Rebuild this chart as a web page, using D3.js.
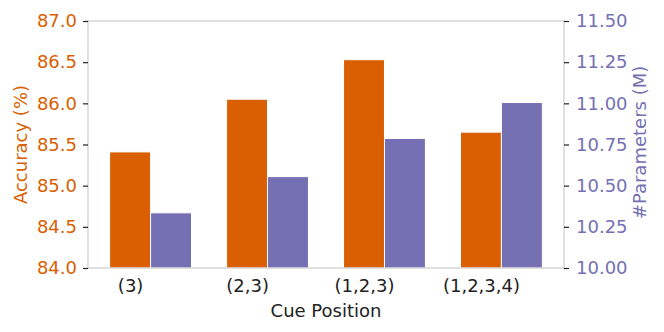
<!DOCTYPE html>
<html>
<head>
<meta charset="utf-8">
<script src="https://cdn.jsdelivr.net/npm/d3@7"></script>
<style>
  body { margin: 0; background: #fff; }
  text { font-family: "DejaVu Sans", sans-serif; }
</style>
</head>
<body>
<div id="chart"></div>
<script>
// data
const categories = ["(3)", "(2,3)", "(1,2,3)", "(1,2,3,4)"]
const accuracy = [85.41, 86.05, 86.53, 85.65]
const params = [10.335, 10.555, 10.787, 11.005]
const accTicks = [84.0, 84.5, 85.0, 85.5, 86.0, 86.5, 87.0]
const paramTicks = [10.00, 10.25, 10.50, 10.75, 11.00, 11.25, 11.50]

const orange = "#d95f02", purple = "#7570b3"

const margin = ({top: 21, right: 100, bottom: 64, left: 88})
const W = 664, H = 332
const width = W - margin.left - margin.right,
    height = H - margin.top - margin.bottom

const svg = d3.select("#chart").append("svg")
    .attr("width", W)
    .attr("height", H)
    .append("g")
    .attr("transform", "translate(" + margin.left + "," + margin.top + ")")

const barW = 0.35
const xScale = d3.scaleLinear()
    .domain([-barW / 2 - 0.185, categories.length - 1 + barW * 1.5 + 0.185])
    .range([0, width])
const yLeft = d3.scaleLinear().domain([84, 87]).range([height, 0])
const yRight = d3.scaleLinear().domain([10, 11.5]).range([height, 0])

// bars
svg.selectAll(".acc")
    .data(accuracy)
    .enter().append("rect")
    .attr("class", "acc")
    .attr("x", (d, i) => xScale(i - barW / 2))
    .attr("width", xScale(barW) - xScale(0))
    .attr("y", d => yLeft(d))
    .attr("height", d => height - yLeft(d))
    .attr("fill", orange)
    .attr("stroke", "#fff")
    .attr("stroke-width", 1)

svg.selectAll(".par")
    .data(params)
    .enter().append("rect")
    .attr("class", "par")
    .attr("x", (d, i) => xScale(i + barW / 2))
    .attr("width", xScale(barW) - xScale(0))
    .attr("y", d => yRight(d))
    .attr("height", d => height - yRight(d))
    .attr("fill", purple)
    .attr("stroke", "#fff")
    .attr("stroke-width", 1)

// frame
svg.append("rect")
    .attr("width", width).attr("height", height)
    .attr("fill", "none")
    .attr("stroke", "#cccccc")
    .attr("stroke-width", 1.2)

// axes
const yAxisL = d3.axisLeft(yLeft).tickValues(accTicks).tickFormat(d3.format(".1f")).tickSize(5).tickPadding(6)
const yAxisR = d3.axisRight(yRight).tickValues(paramTicks).tickFormat(d3.format(".2f")).tickSize(5).tickPadding(7)
const xAxis = d3.axisBottom(xScale).tickValues(d3.range(categories.length)).tickFormat(i => categories[i]).tickSize(0).tickPadding(11)

const gl = svg.append("g").attr("class", "axis").call(yAxisL)
const gr = svg.append("g").attr("class", "axis").attr("transform", "translate(" + width + ",0)").call(yAxisR)
const gx = svg.append("g").attr("class", "axis").attr("transform", "translate(0," + height + ")").call(xAxis)

svg.selectAll(".axis .domain").remove()
svg.selectAll(".axis .tick line").attr("stroke", "#222").attr("stroke-width", 1.2)
gl.selectAll("text").attr("fill", orange).attr("font-size", 18)
gr.selectAll("text").attr("fill", purple).attr("font-size", 18)
gx.selectAll("text").attr("fill", "#222").attr("font-size", 18)

// labels
svg.append("text")
    .attr("x", width / 2).attr("y", height + 49)
    .attr("text-anchor", "middle")
    .attr("font-size", 18).attr("fill", "#222")
    .text("Cue Position")

svg.append("text")
    .attr("transform", "translate(" + (-61) + "," + (height / 2) + ") rotate(-90)")
    .attr("text-anchor", "middle")
    .attr("font-size", 18).attr("fill", orange)
    .text("Accuracy (%)")

svg.append("text")
    .attr("transform", "translate(" + (width + 82) + "," + (height / 2 - 2) + ") rotate(-90)")
    .attr("text-anchor", "middle")
    .attr("font-size", 18).attr("fill", purple)
    .text("#Parameters (M)")
</script>
</body>
</html>
